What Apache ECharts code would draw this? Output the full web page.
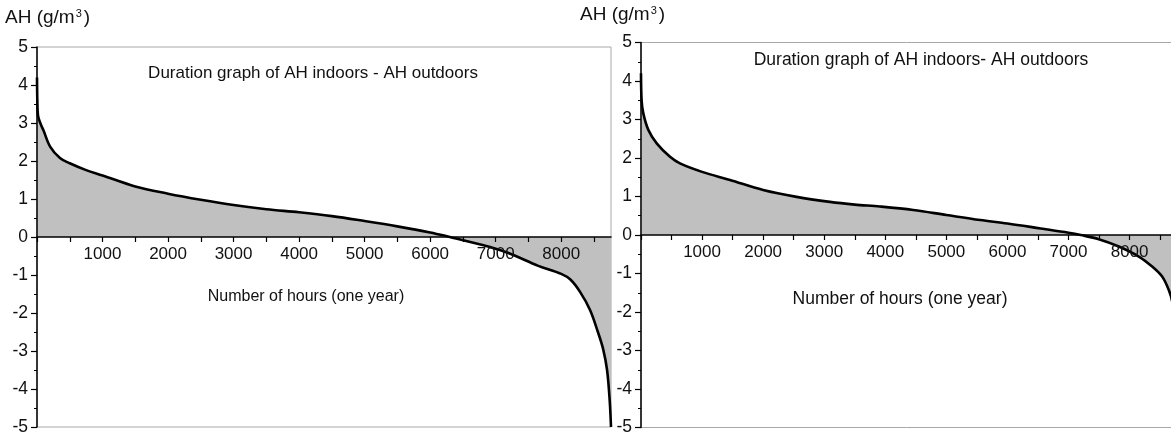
<!DOCTYPE html>
<html>
<head>
<meta charset="utf-8">
<script src="https://cdn.jsdelivr.net/npm/echarts@6/dist/echarts.min.js"></script>
<style>
html,body{margin:0;padding:0;background:#fff;}
#chart{width:1171px;height:433px;}
</style>
</head>
<body>
<div id="chart"></div>
<script>
// ---- Data ----
var hoursLeft = [0, 5, 15, 50, 100, 200, 350, 500, 750, 1000, 1500, 2000, 2500, 3000, 3500, 4000, 4500, 5000, 5500, 6000, 6300, 6800, 7000, 7250, 7650, 8000, 8140, 8290, 8440, 8560, 8640, 8700, 8740, 8760];
var ahLeft    = [4.2, 3.6, 3.2, 3.0, 2.8, 2.38, 2.08, 1.94, 1.76, 1.62, 1.33, 1.14, 0.98, 0.84, 0.73, 0.65, 0.55, 0.42, 0.28, 0.12, 0.0, -0.21, -0.31, -0.46, -0.76, -0.97, -1.12, -1.45, -1.92, -2.5, -2.95, -3.5, -4.3, -5.0];

var hoursRight = [0, 10, 38, 120, 257, 475, 638, 1000, 1457, 2000, 2548, 3093, 3500, 3911, 4457, 5000, 5554, 6000, 6545, 7000, 7200, 7496, 7823, 8151, 8369, 8533, 8642, 8700, 8760];
var ahRight    = [4.2, 3.5, 3.16, 2.73, 2.38, 2.03, 1.86, 1.64, 1.43, 1.17, 0.99, 0.86, 0.79, 0.74, 0.65, 0.52, 0.39, 0.30, 0.17, 0.06, 0.0, -0.11, -0.30, -0.56, -0.82, -1.08, -1.43, -1.75, -2.6];

var xTickValues = [0, 500, 1000, 1500, 2000, 2500, 3000, 3500, 4000, 4500, 5000, 5500, 6000, 6500, 7000, 7500, 8000, 8500];

var yAxisName = ['AH (g/m', '3', ')'];
var titleLeft = 'Duration graph of AH indoors - AH outdoors';
var titleRight = 'Duration graph of AH indoors- AH outdoors';
var xAxisName = 'Number of hours (one year)';

// ---- Chart ----
var FONT = '"Liberation Sans", Arial, sans-serif';
function zip(a, b) { return a.map(function (v, i) { return [v, b[i]]; }); }

function makeX(gridIndex, offset) {
  return {
    type: 'value', gridIndex: gridIndex, min: 0, max: 8760, interval: 500,
    position: 'bottom', offset: offset, z: 5,
    axisLine: { onZero: false, lineStyle: { color: '#000', width: 1.5 } },
    axisTick: { show: true, inside: false, length: 5, customValues: xTickValues, lineStyle: { color: '#000', width: 1.2 } },
    axisLabel: {
      show: true, fontSize: 17, color: '#111', fontFamily: FONT, margin: 9,
      showMinLabel: true, showMaxLabel: true, hideOverlap: false,
      formatter: function (v) { v = Number(v); return (v > 0 && v < 8700 && v % 1000 === 0) ? String(v) : ''; }
    },
    splitLine: { show: false }
  };
}
function makeY(gridIndex) {
  return {
    type: 'value', gridIndex: gridIndex, min: -5, max: 5, interval: 1, z: 5,
    axisLine: { show: true, onZero: false, lineStyle: { color: '#000', width: 1.5 } },
    axisTick: { show: true, inside: false, length: 6, lineStyle: { color: '#000', width: 1.2 } },
    minorTick: { show: true, splitNumber: 2, length: 3, lineStyle: { color: '#000', width: 1 } },
    axisLabel: { fontSize: 17.5, color: '#111', fontFamily: FONT, margin: 9 },
    splitLine: { show: false },
    minorSplitLine: { show: false }
  };
}
function makeSeries(idx, xs, ys) {
  return {
    type: 'line', xAxisIndex: idx, yAxisIndex: idx,
    data: zip(xs, ys), symbol: 'none', showSymbol: false,
    smooth: 0.35,
    lineStyle: { color: '#000', width: 2.6 },
    areaStyle: { color: '#c0c0c0', opacity: 1, origin: 'auto' },
    animation: false
  };
}
function txt(x, y, text, size) {
  return {
    type: 'text', x: x, y: y, silent: true,
    style: { text: text, fill: '#111', font: size + 'px ' + FONT, align: 'center', verticalAlign: 'middle' }
  };
}
function yName(x, y) {
  return {
    type: 'text', x: x, y: y, silent: true,
    style: {
      text: '{a|' + yAxisName[0] + '}{s|' + yAxisName[1] + '}{a|' + yAxisName[2] + '}',
      align: 'left', verticalAlign: 'middle', fill: '#111',
      rich: {
        a: { font: '19px ' + FONT, fill: '#111' },
        s: { font: '11px ' + FONT, fill: '#111', verticalAlign: 'top', padding: [0, 2, 0, 1] }
      }
    }
  };
}

var chart = echarts.init(document.getElementById('chart'), null, { renderer: 'canvas' });
chart.setOption({
  backgroundColor: '#fff',
  animation: false,
  grid: [
    { left: 37, top: 47, width: 574, height: 380, show: true, borderColor: '#a8a8a8', borderWidth: 1, outerBoundsMode: 'none', containLabel: false },
    { left: 641, top: 42.5, width: 535, height: 385, show: true, borderColor: '#a8a8a8', borderWidth: 1, outerBoundsMode: 'none', containLabel: false }
  ],
  xAxis: [makeX(0, -190), makeX(1, -192.5)],
  yAxis: [makeY(0), makeY(1)],
  series: [makeSeries(0, hoursLeft, ahLeft), makeSeries(1, hoursRight, ahRight)],
  graphic: [
    yName(5, 18),
    yName(580, 15),
    txt(313, 73, titleLeft, 17),
    txt(921, 60, titleRight, 17.5),
    txt(306, 297, xAxisName, 16),
    txt(900, 299, xAxisName, 17.5)
  ]
});
</script>
</body>
</html>
